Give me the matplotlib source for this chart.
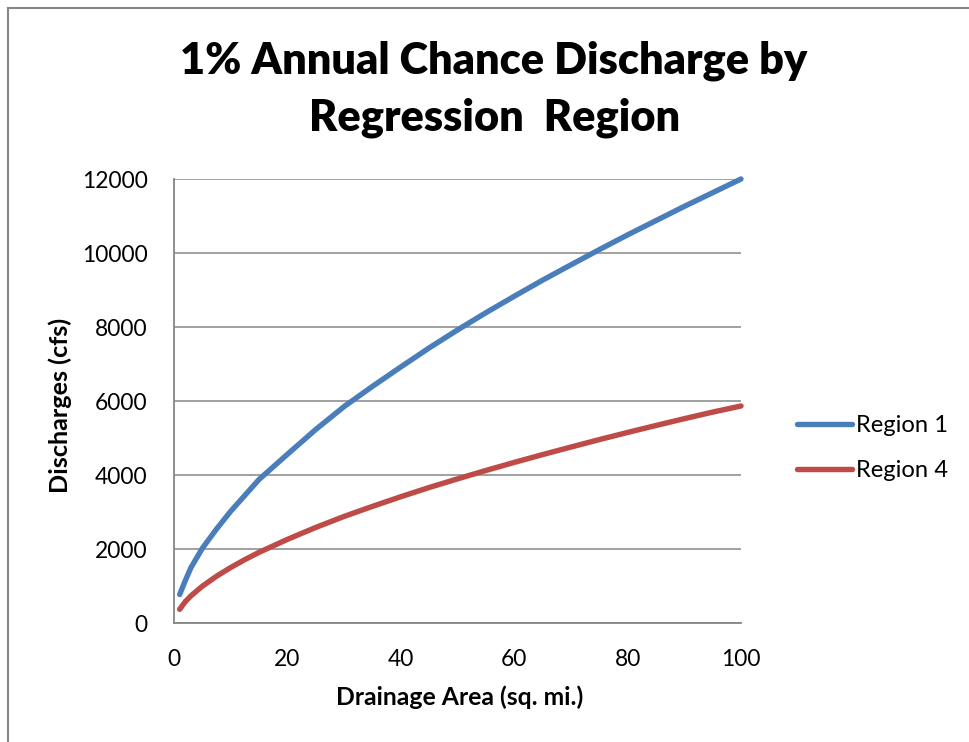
import matplotlib
matplotlib.use('Agg')
import matplotlib.pyplot as plt
from matplotlib.lines import Line2D

# ---- data ----
area = [1, 2, 3, 5, 7.5, 10, 12.5, 15, 20, 25, 30, 35, 40, 45, 50, 55, 60,
        65, 70, 75, 80, 85, 90, 95, 100]
region1 = [770, 1150, 1500, 2020, 2540, 3020, 3450, 3880, 4560, 5230, 5850,
           6395, 6920, 7435, 7920, 8385, 8830, 9265, 9680, 10090, 10490,
           10875, 11260, 11630, 12000]
region4 = [370, 578, 735, 995, 1264, 1500, 1713, 1910, 2260, 2583, 2880,
           3152, 3413, 3662, 3895, 4122, 4340, 4551, 4755, 4956, 5150,
           5338, 5522, 5700, 5865]
series_names = ["Region 1", "Region 4"]
x_ticks = [0, 20, 40, 60, 80, 100]
y_ticks = [0, 2000, 4000, 6000, 8000, 10000, 12000]
title_lines = ["1% Annual Chance Discharge by", "Regression  Region"]
x_label = "Drainage Area (sq. mi.)"
y_label = "Discharges (cfs)"

W, H = 969, 742
plt.rcParams['font.family'] = ['Lato', 'DejaVu Sans']
fig = plt.figure(figsize=(W / 100, H / 100), dpi=100)
renderer = fig.canvas.get_renderer()

def fit(t, target_px, dim='w'):
    t.set_fontsize(10)
    bb = t.get_window_extent(renderer)
    cur = bb.width if dim == 'w' else bb.height
    t.set_fontsize(10 * target_px / cur)
    return t.get_fontsize()

# chart border (left/top visible)
grey = '#868686'
fig.add_artist(Line2D([8 / W, 8 / W], [0, 1 - 8 / H], color=grey, lw=1.5,
                      transform=fig.transFigure))
fig.add_artist(Line2D([8 / W, 1], [1 - 8 / H, 1 - 8 / H], color=grey, lw=1.5,
                      transform=fig.transFigure))

ax = fig.add_axes([174 / W, (H - 623) / H, (741 - 174) / W, (623 - 179) / H])
blue, red = '#4A7EBB', '#BE4B48'
ax.plot(area, region1, color=blue, lw=3.9, solid_capstyle='round',
        solid_joinstyle='round', label=series_names[0], clip_on=False)
ax.plot(area, region4, color=red, lw=3.9, solid_capstyle='round',
        solid_joinstyle='round', label=series_names[1], clip_on=False)

ax.set_xlim(0, 100)
ax.set_ylim(0, 12000)
ax.set_xticks(x_ticks)
ax.set_yticks(y_ticks)
ax.grid(axis='y', color=grey, lw=1.1)
ax.set_axisbelow(True)
for s in ['top', 'right']:
    ax.spines[s].set_visible(False)
for s in ['left', 'bottom']:
    ax.spines[s].set_color(grey)
    ax.spines[s].set_linewidth(1.3)

# tick label size fitted to "12000" width (~65 px)
tmp = fig.text(0, 0, "12000")
tick_fs = fit(tmp, 66)
tmp.remove()
ax.tick_params(axis='both', length=0, labelsize=tick_fs, colors='black')
ax.tick_params(axis='y', pad=19)
ax.tick_params(axis='x', pad=19)

# title
t1 = fig.text(494 / W, 1 - 61 / H, title_lines[0], ha='center', va='center',
              fontweight='heavy')
fs1 = fit(t1, 628)
t2 = fig.text(494.5 / W, 1 - 118 / H, title_lines[1], ha='center', va='center',
              fontweight='heavy', fontsize=fs1)

# axis labels
xl = fig.text(459.5 / W, 1 - 697 / H, x_label, ha='center', va='center',
              fontweight='bold')
fit(xl, 247)
yl = fig.text(60 / W, 1 - 405 / H, y_label, ha='center', va='center',
              rotation=90, fontweight='bold')
fit(yl, 176, 'h')

# legend
tmp = fig.text(0, 0, series_names[0])
leg_fs = fit(tmp, 92)
tmp.remove()
handle_pt = 55 * 0.72
leg = fig.legend(loc='center left', bbox_to_anchor=(797 / W, 1 - 448 / H),
                 frameon=False, fontsize=leg_fs,
                 handlelength=handle_pt / leg_fs, handletextpad=0.15,
                 labelspacing=(48 * 0.72) / leg_fs - 1.0, borderpad=0,
                 borderaxespad=0)

fig.savefig('out.png', dpi=100)
